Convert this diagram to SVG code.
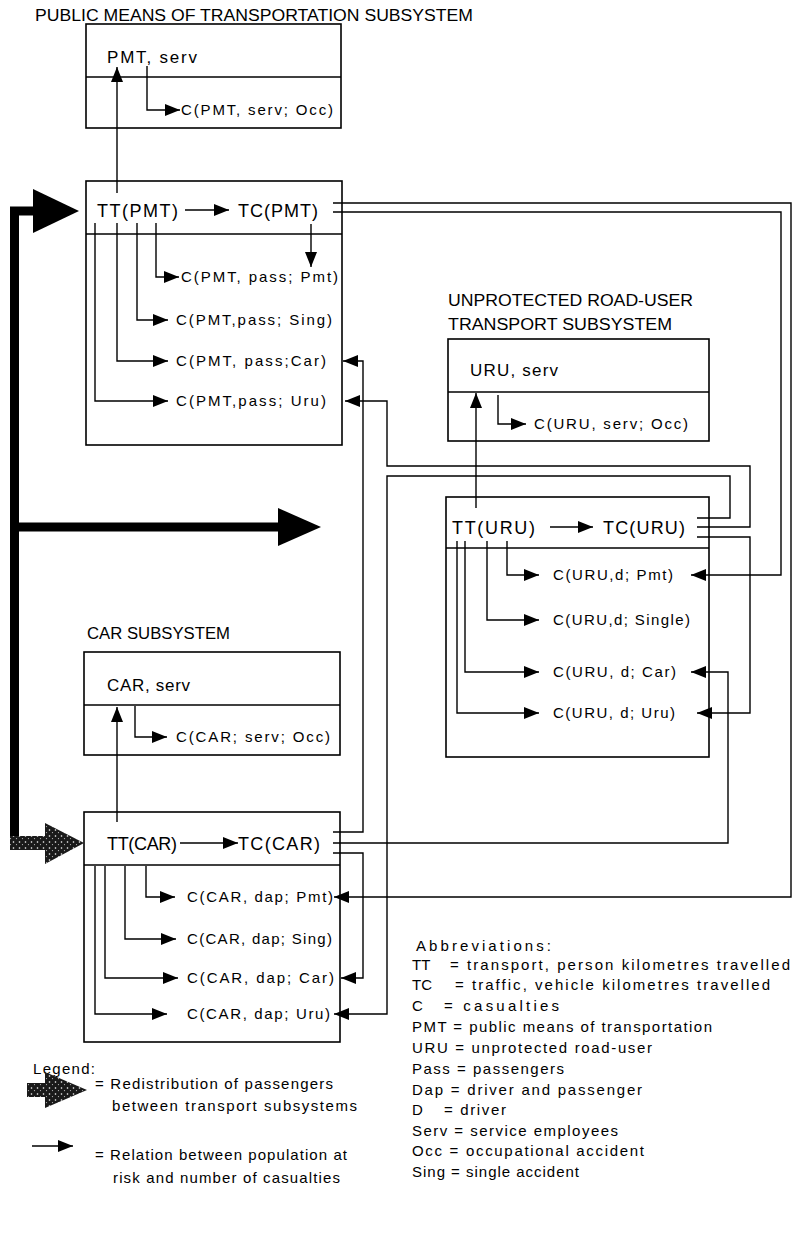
<svg xmlns="http://www.w3.org/2000/svg" width="799" height="1234" viewBox="0 0 799 1234">
<defs>
<style>
text{font-family:"Liberation Sans",Arial,Helvetica,sans-serif;fill:#000}
.box{fill:none;stroke:#000;stroke-width:1.6}
.ln{fill:none;stroke:#000;stroke-width:1.4}
.ar{fill:none;stroke:#000;stroke-width:1.4;marker-end:url(#ah)}
.h{font-size:16px}
.s{font-size:17px}
.r{font-size:15px}
.tt{font-size:18px}
.ab{font-size:15px}
</style>
<marker id="ah" markerUnits="userSpaceOnUse" markerWidth="16" markerHeight="12" refX="15" refY="6" orient="auto"><path d="M0,0 L15,6 L0,12 z" fill="#000"/></marker>
<pattern id="speck" width="6" height="6" patternUnits="userSpaceOnUse"><rect width="6" height="6" fill="#1a1a1a"/><circle cx="1.5" cy="2" r="0.8" fill="#fff"/><circle cx="4.5" cy="4.6" r="0.6" fill="#bbb"/></pattern>
</defs>
<rect width="799" height="1234" fill="#fff"/>

<g id="pmt-serv">
<text class="h" x="35" y="21" textLength="438" lengthAdjust="spacingAndGlyphs">PUBLIC MEANS OF TRANSPORTATION SUBSYSTEM</text>
<rect class="box" x="86" y="24" width="255" height="104"/>
<line class="box" x1="86" y1="77" x2="341" y2="77"/>
<text class="s" x="107" y="63" textLength="90">PMT, serv</text>
<text class="r" x="181" y="115" textLength="152">C(PMT, serv; Occ)</text>
</g>

<g id="pmt">
<rect class="box" x="86" y="181" width="256" height="264"/>
<line class="box" x1="86" y1="234" x2="342" y2="234"/>
<text class="tt" x="97" y="217" textLength="81">TT(PMT)</text>
<text class="tt" x="238" y="217" textLength="80">TC(PMT)</text>
<text class="r" x="181" y="282" textLength="157">C(PMT, pass; Pmt)</text>
<text class="r" x="176" y="325" textLength="156">C(PMT,pass; Sing)</text>
<text class="r" x="176" y="366" textLength="150">C(PMT, pass;Car)</text>
<text class="r" x="176" y="406" textLength="150">C(PMT,pass; Uru)</text>
</g>

<g id="uru-serv">
<text class="h" x="448" y="306" textLength="245" lengthAdjust="spacingAndGlyphs">UNPROTECTED ROAD-USER</text>
<text class="h" x="448" y="330" textLength="224" lengthAdjust="spacingAndGlyphs">TRANSPORT SUBSYSTEM</text>
<rect class="box" x="448" y="339" width="261" height="102"/>
<line class="box" x1="448" y1="392" x2="709" y2="392"/>
<text class="s" x="470" y="376" textLength="88">URU, serv</text>
<text class="r" x="534" y="429" textLength="154">C(URU, serv; Occ)</text>
</g>

<g id="uru">
<rect class="box" x="446" y="497" width="263" height="260"/>
<line class="box" x1="446" y1="548" x2="709" y2="548"/>
<text class="tt" x="452" y="534" textLength="83">TT(URU)</text>
<text class="tt" x="603" y="534" textLength="82">TC(URU)</text>
<text class="r" x="553" y="580" textLength="120">C(URU,d; Pmt)</text>
<text class="r" x="553" y="625" textLength="137">C(URU,d; Single)</text>
<text class="r" x="553" y="677" textLength="123">C(URU, d; Car)</text>
<text class="r" x="553" y="718" textLength="122">C(URU, d; Uru)</text>
</g>

<g id="car-serv">
<text class="h" x="87" y="639" textLength="143" lengthAdjust="spacingAndGlyphs">CAR SUBSYSTEM</text>
<rect class="box" x="84" y="652" width="256" height="103"/>
<line class="box" x1="84" y1="705" x2="340" y2="705"/>
<text class="s" x="107" y="691" textLength="83">CAR, serv</text>
<text class="r" x="176" y="742" textLength="154">C(CAR; serv; Occ)</text>
</g>

<g id="car">
<rect class="box" x="84" y="812" width="256" height="230"/>
<line class="box" x1="84" y1="865" x2="340" y2="865"/>
<text class="tt" x="107" y="850" textLength="70">TT(CAR)</text>
<text class="tt" x="238" y="850" textLength="82">TC(CAR)</text>
<text class="r" x="187" y="902" textLength="146">C(CAR, dap; Pmt)</text>
<text class="r" x="187" y="944" textLength="145">C(CAR, dap; Sing)</text>
<text class="r" x="187" y="983" textLength="147">C(CAR, dap; Car)</text>
<text class="r" x="187" y="1019" textLength="143">C(CAR, dap; Uru)</text>
</g>

<g id="redistribution">
<path d="M36 211 H14.5 V837" fill="none" stroke="#000" stroke-width="9" stroke-linejoin="miter"/>
<path d="M14.5 527 H280" fill="none" stroke="#000" stroke-width="9"/>
<polygon points="33,189 79,211 33,233" fill="#000"/>
<polygon points="278,508 321,527 278,546" fill="#000"/>
<rect x="10" y="836" width="38" height="14" fill="url(#speck)"/>
<polygon points="45,823 84,843 45,864" fill="url(#speck)"/>
</g>

<g id="connectors">
<path class="ar" d="M117 193 V67"/>
<path class="ar" d="M147 66 V110 H180"/>
<path class="ar" d="M185 210 H229"/>
<path class="ar" d="M311 224 V267"/>
<path class="ar" d="M156 223 V277 H179"/>
<path class="ar" d="M137 223 V320 H168"/>
<path class="ar" d="M117 223 V361 H168"/>
<path class="ar" d="M95 223 V401 H168"/>

<path class="ar" d="M476 508 V393"/>
<path class="ar" d="M498 395 V424 H526"/>
<path class="ar" d="M550 527 H593"/>
<path class="ar" d="M507 541 V575 H539"/>
<path class="ar" d="M487 541 V620 H539"/>
<path class="ar" d="M465 541 V672 H539"/>
<path class="ar" d="M457 541 V713 H539"/>

<path class="ar" d="M117 822 V707"/>
<path class="ar" d="M135 706 V737 H167"/>
<path class="ar" d="M180 843 H238"/>
<path class="ar" d="M146 866 V897 H175"/>
<path class="ar" d="M125 866 V939 H176"/>
<path class="ar" d="M105 866 V978 H178"/>
<path class="ar" d="M95 866 V1014 H167"/>

<path class="ar" d="M333 203 H791 V897 H334"/>
<path class="ar" d="M333 212 H781 V575 H691"/>
<path class="ar" d="M333 832 H363 V361 H343"/>
<path class="ar" d="M333 843 H728 V672 H691"/>
<path class="ar" d="M333 853 H363 V978 H341"/>
<path class="ar" d="M697 518 H730 V476 H387 V1014 H334"/>
<path class="ar" d="M697 527 H750 V466 H387 V401 H345"/>
<path class="ar" d="M697 537 H750 V713 H697"/>
</g>

<g id="abbreviations">
<text class="ab" x="416" y="951" textLength="135">Abbreviations:</text>
<text class="ab" x="412" y="970">TT</text>
<text class="ab" x="450" y="970" textLength="340">= transport, person kilometres travelled</text>
<text class="ab" x="412" y="990">TC</text>
<text class="ab" x="455" y="990" textLength="315">= traffic, vehicle kilometres travelled</text>
<text class="ab" x="412" y="1011">C</text>
<text class="ab" x="444" y="1011" textLength="115">= casualties</text>
<text class="ab" x="412" y="1032" textLength="300">PMT = public means of transportation</text>
<text class="ab" x="412" y="1053" textLength="240">URU = unprotected road-user</text>
<text class="ab" x="412" y="1074" textLength="152">Pass = passengers</text>
<text class="ab" x="412" y="1095" textLength="230">Dap = driver and passenger</text>
<text class="ab" x="412" y="1115">D</text>
<text class="ab" x="444" y="1115" textLength="62">= driver</text>
<text class="ab" x="412" y="1136" textLength="206">Serv = service employees</text>
<text class="ab" x="412" y="1156" textLength="232">Occ = occupational accident</text>
<text class="ab" x="412" y="1177" textLength="167">Sing = single accident</text>
</g>

<g id="legend">
<text class="ab" x="33" y="1074" textLength="62">Legend:</text>
<rect x="27" y="1083" width="20" height="14" fill="url(#speck)"/>
<polygon points="45,1072 87,1090 45,1108" fill="url(#speck)"/>
<text class="ab" x="95" y="1089" textLength="238">= Redistribution of passengers</text>
<text class="ab" x="112" y="1111" textLength="245">between transport subsystems</text>
<path class="ar" d="M32 1146 H73"/>
<text class="ab" x="95" y="1160" textLength="252">= Relation between population at</text>
<text class="ab" x="113" y="1183" textLength="227">risk and number of casualties</text>
</g>
</svg>
